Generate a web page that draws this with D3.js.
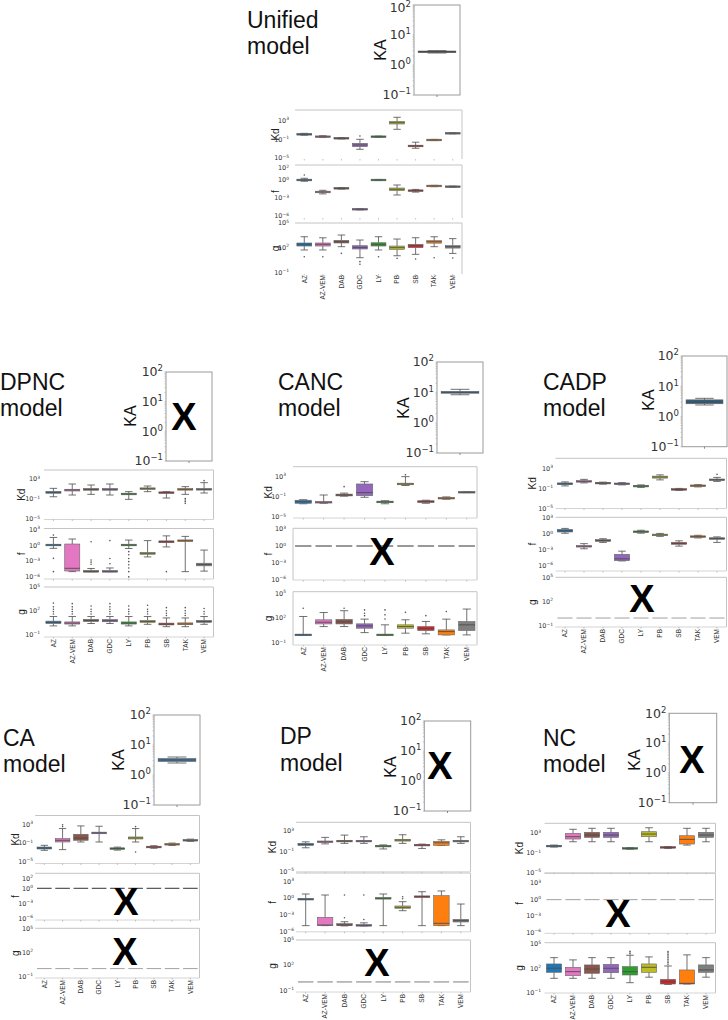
<!DOCTYPE html>
<html><head><meta charset="utf-8">
<script src="https://cdn.jsdelivr.net/npm/d3@7"></script>
<style>body{margin:0;background:#fff} svg{display:block}</style>
</head><body><svg id="c" width="728" height="1020"></svg>
<script>
// ---------------- DATA (log10 exponents: [lowWhisker, q1, median, q3, highWhisker, ...outliers]) -------------
const categories = ["AZ","AZ-VEM","DAB","GDC","LY","PB","SB","TAK","VEM"];
const models = ["Unified","DPNC","CANC","CADP","CA","DP","NC"];
const kaTicks = [2,1,0,-1];
const kdTicks = [3,-1,-5];
const fTicks3 = [3,0,-3,-6];
const fTicks2 = [2,0,-3,-6];
const gTicks = [5,2,-1];

const unifiedKA = [0.40,0.43,0.44,0.45,0.48];
const unifiedKd = [
 [-0.1,0.05,0.09,0.13,0.3],[-0.6,-0.47,-0.42,-0.37,-0.2],[-0.9,-0.8,-0.76,-0.72,-0.6],
 [-3.12,-2.55,-2.2,-1.84,-0.98,-0.27],[-0.55,-0.46,-0.42,-0.38,-0.3],[1.16,2.3,2.58,2.88,3.74],
 [-2.9,-2.5,-2.41,-2.32,-1.6],[-1.25,-1.17,-1.13,-1.09,-1.0],[0.2,0.27,0.31,0.35,0.42]];
const unifiedF = [
 [-0.2,-0.04,0.01,0.05,0.3,0.84],[-2.3,-2.05,-1.98,-1.92,-1.7],[-1.5,-1.42,-1.37,-1.32,-1.25],
 [-4.95,-4.89,-4.85,-4.81,-4.75],[-0.08,-0.03,0.01,0.05,0.1],[-2.48,-1.76,-1.53,-1.32,-0.82],
 [-2.0,-1.82,-1.76,-1.7,-1.55],[-1.1,-1.02,-0.98,-0.94,-0.88],[-1.2,-1.14,-1.1,-1.06,-1.0]];
const unifiedG = [
 [1.72,2.2,2.41,2.57,3.33,0.9],[1.72,2.2,2.41,2.57,3.2,0.9],[2.12,2.57,2.72,2.89,3.54,1.31],
 [0.78,1.84,2.04,2.24,2.93,0.3,-0.02],[1.72,2.2,2.41,2.6,3.33,0.9],[1.02,1.8,2.0,2.2,3.05,0.7],
 [1.19,2.0,2.24,2.4,3.21,0.62],[2.12,2.55,2.72,2.85,3.33,0.78],[1.3,1.95,2.12,2.25,3.1,0.75]];

const dpncKd = [
 [-0.55,0.15,0.33,0.5,1.13],[-0.2,0.6,0.8,0.95,2.0],[-0.07,0.75,0.93,1.08,1.8],
 [-0.2,0.75,0.93,1.08,2.0],[-1.07,-0.15,0.0,0.15,0.47],[0.47,0.9,1.07,1.2,1.6],
 [-0.8,0.15,0.27,0.37,0.47],[-0.07,0.78,0.93,1.05,1.47,-0.9,-1.2,-1.5,-1.87],[0.2,0.78,0.93,1.1,2.27,2.67]];
const dpncF = [
 [-0.57,-0.1,0.06,0.2,1.5,1.95,-2.47,-5.0],[-5.0,-4.88,-4.37,0.25,1.2],
 [-5.0,-5.0,-4.95,-4.75,-4.4,-3.6,-3.2,-2.8,0.68],[-5.0,-5.0,-4.95,-4.75,-4.3,-3.5,-2.5,0.9],
 [-0.6,-0.1,0.06,0.2,1.0,-1.2,-1.8,-2.5,-3.1,-3.7,-4.3,-5.0,-6.0],[-2.2,-1.7,-1.52,-1.35,0.9],
 [-0.3,0.5,0.68,0.85,1.8,-5.0],[-5.0,0.75,0.88,0.95,1.7],[-4.9,-3.9,-3.65,-3.4,-0.9]];
const dpncG = [
 [0.1,0.4,0.53,0.7,1.28,1.6,1.9,2.2,2.5,2.97],[0.1,0.33,0.45,0.6,1.28,1.6,1.9,2.2,2.5,2.9],
 [0.4,0.65,0.78,0.92,1.28,1.6,1.9,2.2,2.6],[0.4,0.62,0.75,0.9,1.28,1.6,1.9,2.2,2.5,2.9],
 [0.1,0.33,0.45,0.6,1.28,1.6,1.9,2.2,2.6],[0.3,0.55,0.65,0.8,1.28,1.6,1.9,2.2,2.7],
 [0.0,0.22,0.32,0.45,1.1,1.4,1.7,2.0,2.4],[0.0,0.25,0.35,0.48,1.1,1.4,1.7,2.0,2.4],
 [0.3,0.55,0.65,0.8,1.28,1.6,1.9,2.3]];

const cancKA = [0.92,0.97,1.0,1.03,1.1];
const cancKd = [
 [-2.4,-2.3,-1.98,-1.7,-1.6],[-2.3,-2.2,-2.1,-2.0,-0.67],[-0.9,-0.85,-0.67,-0.5,-0.3,0.97],
 [-1.12,-0.8,-0.2,1.5,1.95],[-2.4,-2.2,-2.04,-1.95,-1.8],[1.2,1.35,1.5,1.6,2.94,3.3],
 [-2.3,-2.15,-1.98,-1.8,-1.7],[-1.5,-1.42,-1.3,-1.18,-1.05],[-0.2,-0.15,-0.13,-0.1,-0.05]];
const cancFFixed = 0;
const cancG = [
 [-0.05,-0.05,-0.03,-0.03,2.2,3.2],[0.98,1.3,1.51,1.8,2.68],[0.98,1.3,1.55,1.85,2.9,3.2],
 [0.25,0.78,1.06,1.31,1.88,2.3,2.6,3.0],[-0.05,-0.05,-0.03,-0.03,1.19,1.9,2.4,3.0],
 [0.18,0.78,0.98,1.19,1.8,2.7],[0.1,0.5,0.75,0.98,1.6,2.3],[-0.03,-0.03,0.37,0.58,1.88,2.8],
 [-0.03,0.5,1.19,1.59,3.1]];

const cadpKA = [0.38,0.42,0.47,0.55,0.6];
const cadpKd = [
 [-0.5,-0.25,-0.08,0.1,0.3],[0.1,0.25,0.4,0.55,0.8],[-0.15,-0.03,0.06,0.15,0.25],
 [-0.3,-0.18,-0.08,0.02,0.15],[-0.8,-0.65,-0.54,-0.45,-0.3],[0.7,1.05,1.26,1.45,1.7],
 [-1.4,-1.28,-1.2,-1.12,-1.0],[-0.7,-0.55,-0.47,-0.38,-0.25],[0.4,0.6,0.72,0.85,1.2,1.8]];
const cadpF = [
 [0.13,0.37,0.61,0.86,1.05],[-2.8,-2.45,-2.33,-2.2,-1.83],[-1.6,-1.4,-1.23,-1.08,-0.9],
 [-5.1,-5.05,-4.7,-3.85,-3.25],[0.15,0.28,0.42,0.55,0.7],[-0.45,-0.3,-0.18,-0.05,0.1],
 [-2.3,-1.95,-1.78,-1.6,-1.3],[-0.75,-0.6,-0.5,-0.4,-0.25],[-1.6,-0.98,-0.86,-0.74,-0.55]];
const cadpGFixed = 0;

const caKA = [0.4,0.45,0.5,0.55,0.6];
const caKd = [
 [-2.54,-2.26,-2.04,-1.83,-1.46],[-2.39,-0.74,-0.37,0.0,2.17,2.6,3.0],[-0.74,-0.37,0.1,0.93,2.74],
 [-0.74,1.1,1.22,1.35,2.67],[-2.5,-2.3,-2.17,-2.05,-1.85],[-0.74,-0.09,0.13,0.35,2.17,-2.9,2.6],
 [-2.1,-1.95,-1.83,-1.72,-1.55],[-1.5,-1.35,-1.24,-1.13,-0.98],[-0.6,-0.47,-0.37,-0.27,-0.12]];
const caFFixed = 0;
const caGFixed = 0;

const dpKd = [
 [-0.27,0.2,0.4,0.6,0.9],[0.5,0.75,0.91,1.05,1.78],[0.6,0.9,1.05,1.2,2.23],
 [0.6,0.9,1.05,1.2,1.9],[-0.5,-0.05,0.06,0.15,0.3],[0.6,1.05,1.24,1.4,2.3],
 [-0.4,0.17,0.26,0.35,0.45],[0.2,0.2,0.71,0.99,1.3],[0.6,0.9,1.05,1.2,1.9]];
const dpF = [
 [-4.9,-0.32,-0.2,-0.02,0.75],[-4.9,-4.9,-4.79,-3.41,0.57],[-4.95,-4.9,-4.8,-4.55,-4.2,-3.48,0.57],
 [-4.95,-4.95,-4.85,-4.7,-4.4,-3.8,0.57],[-4.9,-0.15,-0.02,0.1,0.75],[-2.23,-1.8,-1.63,-1.39,-0.62,0.27,-0.1],
 [-4.9,0.15,0.27,0.38,1.16],[-4.9,-4.9,-4.48,0.45,1.29],[-4.9,-4.25,-4.0,-3.77,-1.04]];
const dpGFixed = 0;

const ncKd = [
 [0.2,0.32,0.4,0.48,0.6],[1.27,1.82,2.29,2.97,3.79],[1.27,2.16,2.63,3.18,3.99],
 [1.27,2.16,2.63,3.18,3.99],[-0.25,-0.13,-0.07,0.0,0.1],[1.27,2.29,2.83,3.3,4.1],
 [-0.1,0.05,0.13,0.2,0.3],[0.6,0.81,1.76,2.49,3.99],[1.27,2.16,2.63,3.18,3.99]];
const ncFFixed = 0;
const ncG = [
 [0.76,1.5,2.0,2.53,3.31],[0.76,1.08,1.58,2.12,3.03],[0.76,1.38,1.9,2.41,3.31],
 [0.76,1.45,2.0,2.48,3.31],[0.22,1.17,1.58,2.2,3.6,3.8,4.0,4.1],[0.9,1.5,2.12,2.53,3.4],
 [0.0,0.06,0.34,0.64,2.28,2.5,2.7,2.9,3.1,3.3,3.5,3.7,3.9,4.06],[0.06,0.06,0.14,1.79,3.65],
 [0.9,1.5,1.79,2.41,3.31]];

// ---------------- STYLE / LAYOUT ----------------
const catColors = ["#1f77b4","#e377c2","#8c564b","#9467bd","#2ca02c","#bcbd22","#d62728","#ff7f0e","#7f7f7f"];
const FONT = "'Liberation Sans', Arial, sans-serif";
const TFONT = "'DejaVu Sans', sans-serif";

const panels = [
 {name:"Unified", tx:247, ty:[28,54], ka:[414,460,5,95], kaLab:[380,50], kaData:unifiedKA, kaColor:"#3a3a3a",
  x:[295,462], tickR:289, yLab:275, xLabY:275, frameLeft:false,
  kd:{r:[159,110], d:[-5.2,5.3], t:kdTicks, data:unifiedKd},
  f:{r:[218,165], d:[-6.3,2.5], t:fTicks2, data:unifiedF},
  g:{r:[274,223], d:[-1.2,5.0], t:gTicks, data:unifiedG}},
 {name:"DPNC", tx:0, ty:[390,416], ka:[166,212,372,461], kaLab:[130,416], kaX:[184,416],
  x:[44,213.5], tickR:40, yLab:21, xLabY:639,
  kd:{r:[519.5,470], d:[-5.1,4.8], t:kdTicks, data:dpncKd},
  f:{r:[579,528.5], d:[-6.4,3.2], t:fTicks3, data:dpncF},
  g:{r:[637,587], d:[-1.3,5.0], t:gTicks, data:dpncG}},
 {name:"CANC", tx:278, ty:[390,416], ka:[437,483,362,453], kaLab:[403,408], kaData:cancKA, kaColor:"#2f73a6",
  x:[293,477], tickR:286, yLab:268, xLabY:647, frameLeft:true,
  kd:{r:[518,466.7], d:[-5.2,4.9], t:kdTicks, data:cancKd},
  f:{r:[580,528.3], d:[-6.05,3.15], t:fTicks3, fixed:cancFFixed, dash:"#444", X:[382,551]},
  g:{r:[645,591.7], d:[-1.25,5.2], t:gTicks, data:cancG}},
 {name:"CADP", tx:543, ty:[390,416], ka:[682,727,356,446.7], kaLab:[648,400], kaData:cadpKA, kaColor:"#2d5d7e",
  x:[555.5,726.5], tickR:553, yLab:532, xLabY:629,
  kd:{r:[508.5,458.3], d:[-5,5], t:kdTicks, data:cadpKd},
  f:{r:[571,517.3], d:[-7.0,3.15], t:fTicks3, data:cadpF},
  g:{r:[627,577.3], d:[-1.1,5.0], t:gTicks, fixed:cadpGFixed, dash:"#aaa", X:[642,598]}},
 {name:"CA", tx:3, ty:[746,772], ka:[154,200,715,805], kaLab:[118,760], kaData:caKA, kaColor:"#3577ad",
  x:[35.2,199.5], tickR:33, yLab:15, xLabY:980,
  kd:{r:[863.5,815.5], d:[-5.4,5.0], t:kdTicks, data:caKd},
  f:{r:[920,873.3], d:[-6.33,3.0], t:fTicks2, fixed:caFFixed, dash:"#444", X:[126,901]},
  g:{r:[978,928.3], d:[-1.2,5.1], t:gTicks, fixed:caGFixed, dash:"#aaa", X:[125,951]}},
 {name:"DP", tx:280, ty:[744,771], ka:[424.3,470.7,721,811], kaLab:[390,767], kaX:[440,765],
  x:[296,470.5], tickR:294, yLab:272, xLabY:994,
  kd:{r:[871.8,822.3], d:[-5.0,4.75], t:kdTicks, data:dpKd},
  f:{r:[931.8,873], d:[-6.0,4.5], t:fTicks3, data:dpF},
  g:{r:[992,940], d:[-1.2,5.0], t:gTicks, fixed:dpGFixed, dash:"#888", X:[377,962]}},
 {name:"NC", tx:543, ty:[746,772], ka:[669.3,716.7,713.3,802.7], kaLab:[634,760], kaX:[692,759],
  x:[544.5,715.5], tickR:541, yLab:519, xLabY:995,
  kd:{r:[872.8,823.3], d:[-5,5], t:kdTicks, data:ncKd},
  f:{r:[933.3,873.3], d:[-6.15,4.8], t:fTicks3, fixed:ncFFixed, dash:"#aaa", X:[618,913]},
  g:{r:[993,942.7], d:[-1.05,5.15], t:gTicks, data:ncG}}
];

// ---------------- DRAW ----------------
const svg = d3.select("#c");
const LN = "#4d4d4d";
const P = v => Math.pow(10, v);

function supLabel(sel, x, y, exp, size) {
  const t = sel.append("text").attr("x", x).attr("y", y).attr("dy", "0.35em")
    .attr("text-anchor", "end").attr("font-family", TFONT).attr("font-size", size).attr("fill", "#333");
  t.append("tspan").text("10");
  t.append("tspan").attr("font-size", size * 0.68).attr("dy", -size * 0.4)
    .text(exp < 0 ? "\u2212" + (-exp) : String(exp));
}

function drawBox(g, cx, bw, y, s, color) {
  const [lo, q1, med, q3, hi, ...out] = s;
  const Y = v => y(P(v));
  const cw = bw * 0.5;
  g.append("line").attr("x1", cx).attr("x2", cx).attr("y1", Y(hi)).attr("y2", Y(q3)).attr("stroke", LN).attr("stroke-width", 0.8);
  g.append("line").attr("x1", cx).attr("x2", cx).attr("y1", Y(q1)).attr("y2", Y(lo)).attr("stroke", LN).attr("stroke-width", 0.8);
  [lo, hi].forEach(v => g.append("line").attr("x1", cx - cw / 2).attr("x2", cx + cw / 2)
    .attr("y1", Y(v)).attr("y2", Y(v)).attr("stroke", LN).attr("stroke-width", 0.8));
  const top = Y(q3), h = Math.max(Y(q1) - Y(q3), 1.6);
  g.append("rect").attr("x", cx - bw / 2).attr("y", h > Y(q1) - Y(q3) ? Y(med) - h / 2 : top)
    .attr("width", bw).attr("height", h).attr("fill", color).attr("stroke", "#666").attr("stroke-width", 0.6);
  g.append("line").attr("x1", cx - bw / 2).attr("x2", cx + bw / 2).attr("y1", Y(med)).attr("y2", Y(med))
    .attr("stroke", LN).attr("stroke-width", 0.9);
  out.forEach(v => g.append("circle").attr("cx", cx).attr("cy", Y(v)).attr("r", 0.8).attr("fill", "#555"));
}

function bigX(g, x, y) {
  g.append("text").attr("x", x).attr("y", y).attr("dy", "0.36em").attr("text-anchor", "middle")
    .attr("font-family", FONT).attr("font-weight", "bold").attr("font-size", 38).attr("fill", "#000").text("X");
}

panels.forEach(L => {
  const g = svg.append("g");
  // title
  const tt = g.append("text").attr("font-family", FONT).attr("font-size", 23).attr("fill", "#111");
  tt.append("tspan").attr("x", L.tx).attr("y", L.ty[0]).text(L.name);
  tt.append("tspan").attr("x", L.tx).attr("y", L.ty[1]).text("model");

  // KA axis
  const [kx0, kx1, ky0, ky1] = L.ka;
  const yKA = d3.scaleLog().domain([P(-1), P(2)]).range([ky1, ky0]);
  g.append("rect").attr("x", kx0).attr("y", ky0).attr("width", kx1 - kx0).attr("height", ky1 - ky0)
    .attr("fill", "none").attr("stroke", "#9a9a9a").attr("stroke-width", 1);
  yKA.ticks().forEach(v => {
    g.append("line").attr("x1", kx0 - 1.5).attr("x2", kx0).attr("y1", yKA(v)).attr("y2", yKA(v))
      .attr("stroke", "#aaa").attr("stroke-width", 0.6);
  });
  kaTicks.forEach(e => supLabel(g, kx0 - 3, Math.max(yKA(P(e)), 8), e, 12.5));
  g.append("text").attr("transform", `translate(${L.kaLab[0]},${L.kaLab[1]}) rotate(-90)`)
    .attr("dy", "0.35em").attr("text-anchor", "middle").attr("font-family", FONT).attr("font-size", 16)
    .attr("fill", "#111").text("KA");
  const kcx = (kx0 + kx1) / 2;
  g.append("line").attr("x1", kcx).attr("x2", kcx).attr("y1", ky1).attr("y2", ky1 + 2).attr("stroke", "#888");
  if (L.kaData) drawBox(g, kcx, (kx1 - kx0) * 0.82, yKA, L.kaData, L.kaColor);
  else bigX(g, L.kaX[0], L.kaX[1]);

  // category subplots
  const x = d3.scaleBand().domain(categories).range(L.x);
  const bw = x.bandwidth() * 0.8;
  [["kd", "Kd"], ["f", "f"], ["g", "g"]].forEach(([k, lab]) => {
    const S = L[k];
    const y = d3.scaleLog().domain([P(S.d[0]), P(S.d[1])]).range(S.r);
    const [yb, yt] = S.r;
    const fr = "#c4c4c4";
    g.append("line").attr("x1", L.x[0]).attr("x2", L.x[1]).attr("y1", yt).attr("y2", yt).attr("stroke", fr);
    g.append("line").attr("x1", L.x[1]).attr("x2", L.x[1]).attr("y1", yt).attr("y2", yb).attr("stroke", fr);
    if (L.name !== "Unified")
      g.append("line").attr("x1", L.x[0]).attr("x2", L.x[1]).attr("y1", yb).attr("y2", yb).attr("stroke", "#d4d4d4");
    if (L.frameLeft && k !== "kd")
      g.append("line").attr("x1", L.x[0]).attr("x2", L.x[0]).attr("y1", yt).attr("y2", yb).attr("stroke", fr);
    S.t.forEach(e => supLabel(g, L.tickR, y(P(e)), e, 6.5));
    g.append("text").attr("transform", `translate(${L.yLab},${(yt + yb) / 2}) rotate(-90)`)
      .attr("dy", "0.35em").attr("text-anchor", "middle").attr("font-family", FONT).attr("font-size", 10)
      .attr("fill", "#222").text(lab);
    categories.forEach((c, i) => {
      const cx = x(c) + x.bandwidth() / 2;
      g.append("line").attr("x1", cx).attr("x2", cx).attr("y1", yb).attr("y2", yb + 1.5).attr("stroke", "#999").attr("stroke-width", 0.6);
      if (S.data) drawBox(g, cx, bw, y, S.data[i], catColors[i]);
      else g.append("line").attr("x1", cx - bw / 2).attr("x2", cx + bw / 2)
        .attr("y1", y(P(S.fixed))).attr("y2", y(P(S.fixed))).attr("stroke", S.dash).attr("stroke-width", 1.1);
    });
    if (S.X) bigX(g, S.X[0], S.X[1]);
  });

  // category labels
  categories.forEach(c => {
    const cx = x(c) + x.bandwidth() / 2;
    g.append("text").attr("transform", `translate(${cx},${L.xLabY}) rotate(-90)`).attr("dy", "0.35em")
      .attr("text-anchor", "end").attr("font-family", FONT).attr("font-size", 6.5).attr("fill", "#333").text(c);
  });
});
</script>
</body></html>
